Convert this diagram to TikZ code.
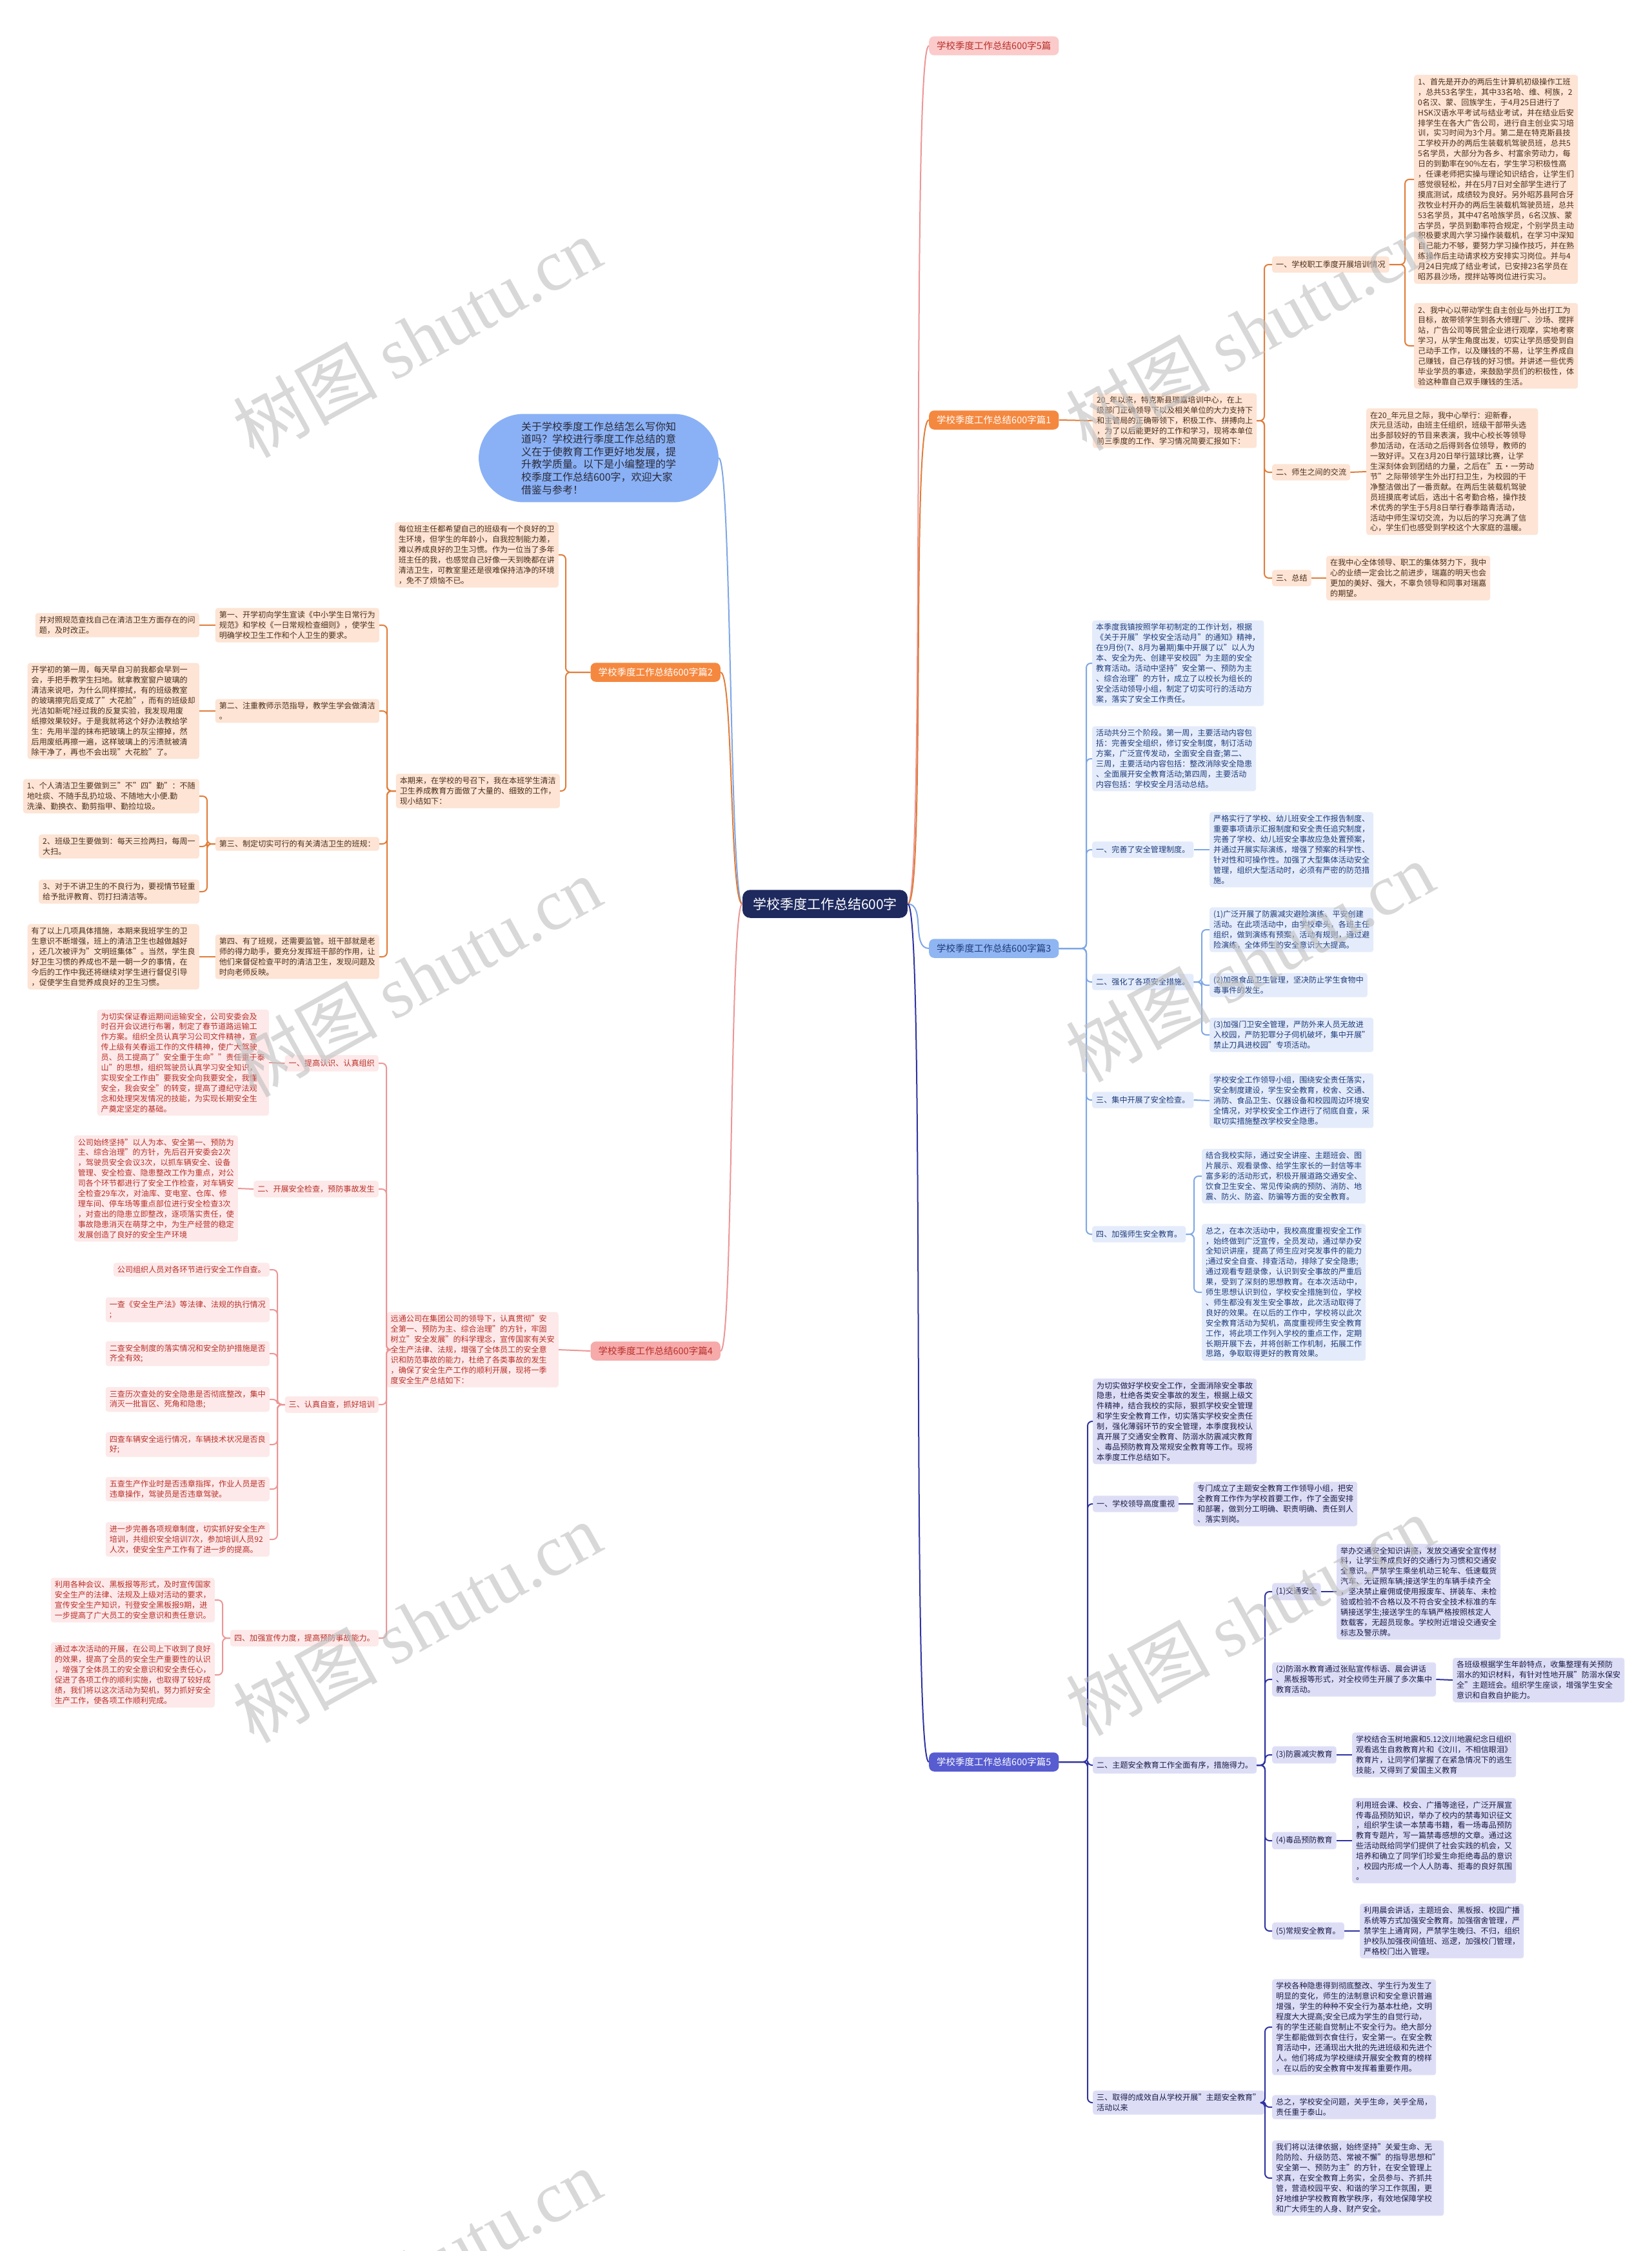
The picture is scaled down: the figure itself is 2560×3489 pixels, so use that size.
\documentclass[tikz,border=0pt]{standalone}
\usepackage{fontspec}
\setmainfont{Noto Sans CJK SC}
\newfontfamily\wmserif{Liberation Serif}
\definecolor{navy}{HTML}{1E2A5E}
\definecolor{bubble}{HTML}{8AB1F5}
\definecolor{bubtext}{HTML}{2A2A3A}
\definecolor{oNode}{HTML}{F5883F}
\definecolor{oLine}{HTML}{E07D3A}
\definecolor{oLeaf}{HTML}{FDE4D4}
\definecolor{oText}{HTML}{4A2E1A}
\definecolor{bNode}{HTML}{8FB5F2}
\definecolor{bLine}{HTML}{7EA7E6}
\definecolor{bLeaf}{HTML}{E4ECFB}
\definecolor{bText}{HTML}{1F3C7A}
\definecolor{pNode}{HTML}{F6AAAA}
\definecolor{pTitle}{HTML}{FBCACA}
\definecolor{pLine}{HTML}{EC9696}
\definecolor{pLeaf}{HTML}{FDE9E9}
\definecolor{pText}{HTML}{B8302A}
\definecolor{iNode}{HTML}{575CD0}
\definecolor{iLine}{HTML}{2F33A0}
\definecolor{iLeaf}{HTML}{DDDEF6}
\definecolor{iText}{HTML}{1C1C48}
\tikzset{
  base/.style={rounded corners=4pt, inner xsep=6pt, inner ysep=5pt, align=left,
    font=\fontsize{12.1}{15.9}\selectfont},
  oleaf/.style={base, fill=oLeaf, text=oText},
  bleaf/.style={base, fill=bLeaf, text=bText},
  pleaf/.style={base, fill=pLeaf, text=pText},
  ileaf/.style={base, fill=iLeaf, text=iText},
  olab/.style={oleaf, inner ysep=7pt},
  blab/.style={bleaf, inner ysep=7pt},
  plab/.style={pleaf, inner ysep=7pt},
  ilab/.style={ileaf, inner ysep=7pt},
  branch/.style={rounded corners=8pt, inner xsep=12pt, inner ysep=8pt,
    font=\fontsize{14.5}{16}\selectfont},
  oln/.style={draw=oLine, line width=2pt, rounded corners=7pt},
  bln/.style={draw=bLine, line width=2pt, rounded corners=7pt},
  pln/.style={draw=pLine, line width=2pt, rounded corners=7pt},
  iln/.style={draw=iLine, line width=2pt, rounded corners=7pt},
  wm/.style={rotate=29, text=black!25, opacity=0.6, font=\fontsize{112}{112}\selectfont}
}
\begin{document}
\begin{tikzpicture}[x=1pt,y=-1pt]
\useasboundingbox (0,0) rectangle (2560,3489);
\fill[white] (0,0) rectangle (2560,3489);

% ---------- center and main branches ----------
\node[fill=navy, text=white, rounded corners=12pt, inner xsep=16pt, inner ysep=12pt,
  font=\fontsize{21}{24}\selectfont] (C) at (1279,1401) {学校季度工作总结600字};
\node[fill=bubble, text=bubtext, rounded corners=70pt, inner xsep=66pt, inner ysep=12pt,
  align=left, font=\fontsize{16}{19.6}\selectfont] (BUB) at (928,710)
 {关于学校季度工作总结怎么写你知\\道吗？学校进行季度工作总结的意\\义在于使教育工作更好地发展，提\\升教学质量。以下是小编整理的学\\校季度工作总结600字，欢迎大家\\借鉴与参考！};
\node[branch, fill=pTitle, text=pText, anchor=west] (T5) at (1440,71) {学校季度工作总结600字5篇};
\node[branch, fill=oNode, text=white, anchor=west] (B1) at (1440,651) {学校季度工作总结600字篇1};
\node[branch, fill=oNode, text=white, anchor=east] (B2) at (1117,1042) {学校季度工作总结600字篇2};
\node[branch, fill=bNode, text=bText, anchor=west] (B3) at (1440,1470) {学校季度工作总结600字篇3};
\node[branch, fill=pNode, text=pText, anchor=east] (B4) at (1117,2094) {学校季度工作总结600字篇4};
\node[branch, fill=iNode, text=white, anchor=west] (B5) at (1440,2731) {学校季度工作总结600字篇5};

\draw[pln] (C.east) .. controls +(28,0) and +(-28,0) .. (T5.west);
\draw[oln] (C.east) .. controls +(28,0) and +(-28,0) .. (B1.west);
\draw[bln] (C.east) .. controls +(28,0) and +(-28,0) .. (B3.west);
\draw[iln] (C.east) .. controls +(28,0) and +(-28,0) .. (B5.west);
\draw[bln] (C.west) .. controls +(-20,0) and +(20,0) .. (BUB.east);
\draw[oln] (C.west) .. controls +(-20,0) and +(20,0) .. (B2.east);
\draw[pln] (C.west) .. controls +(-20,0) and +(20,0) .. (B4.east);

% ---------- 篇1 ----------
\node[oleaf, anchor=west] (a0) at (1694,652) {20\_年以来，特克斯县瑞嘉培训中心，在上\\级部门正确领导下以及相关单位的大力支持下\\和主管局的正确带领下，积极工作、拼搏向上\\，为了以后能更好的工作和学习，现将本单位\\前三季度的工作、学习情况简要汇报如下：};
\node[olab, anchor=west] (a1) at (1972,410) {一、学校职工季度开展培训情况};
\node[oleaf, anchor=west] (a1a) at (2192,278) {1、首先是开办的两后生计算机初级操作工班\\，总共53名学生，其中33名哈、维、柯族，2\\0名汉、蒙、回族学生，于4月25日进行了\\HSK汉语水平考试与结业考试，并在结业后安\\排学生在各大广告公司，进行自主创业实习培\\训，实习时间为3个月。第二是在特克斯县技\\工学校开办的两后生装载机驾驶员班，总共5\\5名学员，大部分为各乡、村富余劳动力，每\\日的到勤率在90\%左右，学生学习积极性高\\，任课老师把实操与理论知识结合，让学生们\\感觉很轻松，并在5月7日对全部学生进行了\\摸底测试，成绩较为良好。另外昭苏县阿合牙\\孜牧业村开办的两后生装载机驾驶员班，总共\\53名学员，其中47名哈族学员，6名汉族、蒙\\古学员，学员到勤率符合规定，个别学员主动\\积极要求周六学习操作装载机，在学习中深知\\自己能力不够，要努力学习操作技巧，并在熟\\练操作后主动请求校方安排实习岗位。并与4\\月24日完成了结业考试，已安排23名学员在\\昭苏县沙场，搅拌站等岗位进行实习。};
\node[oleaf, anchor=west] (a1b) at (2192,536) {2、我中心以带动学生自主创业与外出打工为\\目标，故带领学生到各大修理厂、沙场、搅拌\\站，广告公司等民营企业进行观摩，实地考察\\学习，从学生角度出发，切实让学员感受到自\\己动手工作，以及赚钱的不易，让学生养成自\\己赚钱，自己存钱的好习惯。并讲述一些优秀\\毕业学员的事迹，来鼓励学员们的积极性，体\\验这种靠自己双手赚钱的生活。};
\node[olab, anchor=west] (a2) at (1972,732) {二、师生之间的交流};
\node[oleaf, anchor=west] (a2t) at (2118,731) {在20\_年元旦之际，我中心举行：迎新春，\\庆元旦活动，由班主任组织，班级干部带头选\\出多部较好的节目来表演，我中心校长等领导\\参加活动，在活动之后得到各位领导，教师的\\一致好评。又在3月20日举行篮球比赛，让学\\生深刻体会到团结的力量，之后在"五·一劳动\\节"之际带领学生外出打扫卫生，为校园的干\\净整洁做出了一番贡献。在两后生装载机驾驶\\员班摸底考试后，选出十名考勤合格，操作技\\术优秀的学生于5月8日举行春季踏青活动，\\活动中师生深切交流，为以后的学习充满了信\\心，学生们也感受到学校这个大家庭的温暖。};
\node[olab, anchor=west] (a3) at (1972,896) {三、总结};
\node[oleaf, anchor=west] (a3t) at (2056,896) {在我中心全体领导、职工的集体努力下，我中\\心的业绩一定会比之前进步，瑞嘉的明天也会\\更加的美好、强大，不辜负领导和同事对瑞嘉\\的期望。};

\draw[oln] (B1.east) -- (a0.west);
\foreach \c in {a1,a2,a3} \draw[oln] (a0.east) -- (1960,652) |- (\c.west);
\foreach \c in {a1a,a1b} \draw[oln] (a1.east) -- (2178,410) |- (\c.west);
\draw[oln] (a2.east) -- (a2t.west);
\draw[oln] (a3.east) -- (a3t.west);

% ---------- 篇2 ----------
\node[oleaf, anchor=east] (c0) at (866,860) {每位班主任都希望自己的班级有一个良好的卫\\生环境，但学生的年龄小，自我控制能力差，\\难以养成良好的卫生习惯。作为一位当了多年\\班主任的我，也感觉自己好像一天到晚都在讲\\清洁卫生，可教室里还是很难保持洁净的环境\\，免不了烦恼不已。};
\node[oleaf, anchor=east] (c1) at (868,1226) {本期来，在学校的号召下，我在本班学生清洁\\卫生养成教育方面做了大量的、细致的工作，\\现小结如下：};
\node[oleaf, anchor=east] (c11) at (588,969) {第一、开学初向学生宣读《中小学生日常行为\\规范》和学校《一日常规检查细则》，使学生\\明确学校卫生工作和个人卫生的要求。};
\node[oleaf, anchor=east] (c11a) at (309,969) {并对照规范查找自己在清洁卫生方面存在的问\\题，及时改正。};
\node[oleaf, anchor=east] (c12) at (588,1102) {第二、注重教师示范指导，教学生学会做清洁\\。};
\node[oleaf, anchor=east] (c12a) at (309,1102) {开学初的第一周，每天早自习前我都会早到一\\会，手把手教学生扫地。就拿教室窗户玻璃的\\清洁来说吧，为什么同样擦拭，有的班级教室\\的玻璃擦完后变成了"大花脸"，而有的班级却\\光洁如新呢?经过我的反复实验，我发现用废\\纸擦效果较好。于是我就将这个好办法教给学\\生：先用半湿的抹布把玻璃上的灰尘擦掉，然\\后用废纸再擦一遍，这样玻璃上的污渍就被清\\除干净了，再也不会出现"大花脸"了。};
\node[oleaf, anchor=east] (c13) at (588,1308) {第三、制定切实可行的有关清洁卫生的班规：};
\node[oleaf, anchor=east] (c13a) at (309,1234) {1、个人清洁卫生要做到三"不"四"勤"：不随\\地吐痰、不随手乱扔垃圾、不随地大小便.勤\\洗澡、勤换衣、勤剪指甲、勤捡垃圾。};
\node[oleaf, anchor=east] (c13b) at (309,1312) {2、班级卫生要做到：每天三捡两扫，每周一\\大扫。};
\node[oleaf, anchor=east] (c13c) at (309,1382) {3、对于不讲卫生的不良行为，要视情节轻重\\给予批评教育、罚打扫清洁等。};
\node[oleaf, anchor=east] (c14) at (588,1483) {第四、有了班规，还需要监管。班干部就是老\\师的得力助手，要充分发挥班干部的作用，让\\他们来督促检查平时的清洁卫生，发现问题及\\时向老师反映。};
\node[oleaf, anchor=east] (c14a) at (309,1483) {有了以上几项具体措施，本期来我班学生的卫\\生意识不断增强，班上的清洁卫生也越做越好\\，还几次被评为"文明班集体"。当然，学生良\\好卫生习惯的养成也不是一朝一夕的事情，在\\今后的工作中我还将继续对学生进行督促引导\\，促使学生自觉养成良好的卫生习惯。};

\foreach \c in {c0,c1} \draw[oln] (B2.west) -- (877,1042) |- (\c.east);
\foreach \c in {c11,c12,c13,c14} \draw[oln] (c1.west) -- (600,1226) |- (\c.east);
\draw[oln] (c11.west) -- (c11a.east);
\draw[oln] (c12.west) -- (c12a.east);
\draw[oln] (c14.west) -- (c14a.east);
\foreach \c in {c13a,c13b,c13c} \draw[oln] (c13.west) -- (321,1308) |- (\c.east);

% ---------- 篇3 ----------
\node[bleaf, anchor=west] (d1) at (1693,1028) {本季度我镇按照学年初制定的工作计划，根据\\《关于开展"学校安全活动月"的通知》精神，\\在9月份(7、8月为暑期)集中开展了以"以人为\\本、安全为先、创建平安校园"为主题的安全\\教育活动。活动中坚持"安全第一、预防为主\\、综合治理"的方针，成立了以校长为组长的\\安全活动领导小组，制定了切实可行的活动方\\案，落实了安全工作责任。};
\node[bleaf, anchor=west] (d2) at (1693,1176) {活动共分三个阶段。第一周，主要活动内容包\\括：完善安全组织，修订安全制度，制订活动\\方案，广泛宣传发动，全面安全自查;第二、\\三周，主要活动内容包括：整改消除安全隐患\\、全面展开安全教育活动;第四周，主要活动\\内容包括：学校安全月活动总结。};
\node[blab, anchor=west] (d3) at (1693,1317) {一、完善了安全管理制度。};
\node[bleaf, anchor=west] (d3a) at (1875,1317) {严格实行了学校、幼儿班安全工作报告制度、\\重要事项请示汇报制度和安全责任追究制度，\\完善了学校、幼儿班安全事故应急处置预案，\\并通过开展实际演练，增强了预案的科学性、\\针对性和可操作性。加强了大型集体活动安全\\管理，组织大型活动时，必须有严密的防范措\\施。};
\node[blab, anchor=west] (d4) at (1693,1522) {二、强化了各项安全措施。};
\node[bleaf, anchor=west] (d4a) at (1875,1441) {(1)广泛开展了防震减灾避险演练、平安创建\\活动。在此项活动中，由学校牵头，各班主任\\组织，做到演练有预案，活动有规则，通过避\\险演练，全体师生的安全意识大大提高。};
\node[bleaf, anchor=west] (d4b) at (1875,1527) {(2)加强食品卫生管理，坚决防止学生食物中\\毒事件的发生。};
\node[bleaf, anchor=west] (d4c) at (1875,1604) {(3)加强门卫安全管理，严防外来人员无故进\\入校园，严防犯罪分子伺机破坏，集中开展"\\禁止刀具进校园"专项活动。};
\node[blab, anchor=west] (d5) at (1693,1705) {三、集中开展了安全检查。};
\node[bleaf, anchor=west] (d5a) at (1875,1706) {学校安全工作领导小组，围绕安全责任落实，\\安全制度建设，学生安全教育，校舍、交通、\\消防、食品卫生、仪器设备和校园周边环境安\\全情况，对学校安全工作进行了彻底自查，采\\取切实措施整改学校安全隐患。};
\node[blab, anchor=west] (d6) at (1693,1913) {四、加强师生安全教育。};
\node[bleaf, anchor=west] (d6a) at (1863,1823) {结合我校实际，通过安全讲座、主题班会、图\\片展示、观看录像、给学生家长的一封信等丰\\富多彩的活动形式，积极开展道路交通安全、\\饮食卫生安全、常见传染病的预防、消防、地\\震、防火、防盗、防骗等方面的安全教育。};
\node[bleaf, anchor=west] (d6b) at (1863,2003) {总之，在本次活动中，我校高度重视安全工作\\，始终做到广泛宣传，全员发动，通过举办安\\全知识讲座，提高了师生应对突发事件的能力\\;通过安全自查、排查活动，排除了安全隐患;\\通过观看专题录像，认识到安全事故的严重后\\果，受到了深刻的思想教育。在本次活动中，\\师生思想认识到位，学校安全措施到位，学校\\、师生都没有发生安全事故，此次活动取得了\\良好的效果。在以后的工作中，学校将以此次\\安全教育活动为契机，高度重视师生安全教育\\工作，将此项工作列入学校的重点工作，定期\\长期开展下去，并将创新工作机制，拓展工作\\思路，争取取得更好的教育效果。};

\foreach \c in {d1,d2,d3,d4,d5,d6} \draw[bln] (B3.east) -- (1684,1470) |- (\c.west);
\draw[bln] (d3.east) -- (d3a.west);
\foreach \c in {d4a,d4b,d4c} \draw[bln] (d4.east) -- (1863,1522) |- (\c.west);
\draw[bln] (d5.east) -- (d5a.west);
\foreach \c in {d6a,d6b} \draw[bln] (d6.east) -- (1851,1913) |- (\c.west);

% ---------- 篇4 ----------
\node[pleaf, anchor=east] (e0) at (866,2092) {远通公司在集团公司的领导下，认真贯彻"安\\全第一、预防为主、综合治理"的方针，牢固\\树立"安全发展"的科学理念，宣传国家有关安\\全生产法律、法规，增强了全体员工的安全意\\识和防范事故的能力，杜绝了各类事故的发生\\，确保了安全生产工作的顺利开展，现将一季\\度安全生产总结如下：};
\node[plab, anchor=east] (e1) at (587,1648) {一、提高认识、认真组织};
\node[pleaf, anchor=east] (e1a) at (417,1647) {为切实保证春运期间运输安全，公司安委会及\\时召开会议进行布署，制定了春节道路运输工\\作方案。组织全员认真学习公司文件精神，宣\\传上级有关春运工作的文件精神，使广大驾驶\\员、员工提高了"安全重于生命""责任重于泰\\山"的思想，组织驾驶员认真学习安全知识，\\实现安全工作由"要我安全向我要安全，我懂\\安全，我会安全"的转变，提高了遵纪守法观\\念和处理突发情况的技能，为实现长期安全生\\产奠定坚定的基础。};
\node[plab, anchor=east] (e2) at (587,1843) {二、开展安全检查，预防事故发生};
\node[pleaf, anchor=east] (e2a) at (369,1842) {公司始终坚持"以人为本、安全第一、预防为\\主、综合治理"的方针，先后召开安委会2次\\，驾驶员安全会议3次，以抓车辆安全、设备\\管理、安全检查、隐患整改工作为重点，对公\\司各个环节都进行了安全工作检查，对车辆安\\全检查29车次，对油库、变电室、仓库、修\\理车间、停车场等重点部位进行安全检查3次\\，对查出的隐患立即整改，逐项落实责任，使\\事故隐患消灭在萌芽之中，为生产经营的稳定\\发展创造了良好的安全生产环境};
\node[plab, anchor=east] (e3) at (587,2177) {三、认真自查，抓好培训};
\node[pleaf, anchor=east] (e3a) at (418,1968) {公司组织人员对各环节进行安全工作自查。};
\node[pleaf, anchor=east] (e3b) at (418,2030) {一查《安全生产法》等法律、法规的执行情况\\;};
\node[pleaf, anchor=east] (e3c) at (418,2098) {二查安全制度的落实情况和安全防护措施是否\\齐全有效;};
\node[pleaf, anchor=east] (e3d) at (418,2169) {三查历次查处的安全隐患是否彻底整改，集中\\消灭一批盲区、死角和隐患;};
\node[pleaf, anchor=east] (e3e) at (418,2239) {四查车辆安全运行情况，车辆技术状况是否良\\好;};
\node[pleaf, anchor=east] (e3f) at (418,2308) {五查生产作业时是否违章指挥，作业人员是否\\违章操作，驾驶员是否违章驾驶。};
\node[pleaf, anchor=east] (e3g) at (418,2386) {进一步完善各项规章制度，切实抓好安全生产\\培训，共组织安全培训7次，参加培训人员92\\人次，使安全生产工作有了进一步的提高。};
\node[plab, anchor=east] (e4) at (587,2539) {四、加强宣传力度，提高预防事故能力。};
\node[pleaf, anchor=east] (e4a) at (333,2480) {利用各种会议、黑板报等形式，及时宣传国家\\安全生产的法律、法规及上级对活动的要求，\\宣传安全生产知识，刊登安全黑板报9期，进\\一步提高了广大员工的安全意识和责任意识。};
\node[pleaf, anchor=east] (e4b) at (333,2596) {通过本次活动的开展，在公司上下收到了良好\\的效果，提高了全员的安全生产重要性的认识\\，增强了全体员工的安全意识和安全责任心，\\促进了各项工作的顺利实施，也取得了较好成\\绩，我们将以这次活动为契机，努力抓好安全\\生产工作，使各项工作顺利完成。};

\draw[pln] (B4.west) -- (e0.east);
\foreach \c in {e1,e2,e3,e4} \draw[pln] (e0.west) -- (599,2092) |- (\c.east);
\draw[pln] (e1.west) -- (e1a.east);
\draw[pln] (e2.west) -- (e2a.east);
\foreach \c in {e3a,e3b,e3c,e3d,e3e,e3f,e3g} \draw[pln] (e3.west) -- (430,2177) |- (\c.east);
\foreach \c in {e4a,e4b} \draw[pln] (e4.west) -- (345,2539) |- (\c.east);

% ---------- 篇5 ----------
\node[ileaf, anchor=west] (f0) at (1694,2203) {为切实做好学校安全工作，全面消除安全事故\\隐患，杜绝各类安全事故的发生，根据上级文\\件精神，结合我校的实际，狠抓学校安全管理\\和学生安全教育工作，切实落实学校安全责任\\制，强化薄弱环节的安全管理，本季度我校认\\真开展了交通安全教育、防溺水防震减灾教育\\、毒品预防教育及常规安全教育等工作。现将\\本季度工作总结如下。};
\node[ilab, anchor=west] (f1) at (1694,2331) {一、学校领导高度重视};
\node[ileaf, anchor=west] (f1a) at (1850,2331) {专门成立了主题安全教育工作领导小组，把安\\全教育工作作为学校首要工作，作了全面安排\\和部署，做到分工明确、职责明确、责任到人\\、落实到岗。};
\node[ilab, anchor=west] (f2) at (1694,2736) {二、主题安全教育工作全面有序，措施得力。};
\node[ilab, anchor=west] (f21) at (1972,2467) {(1)交通安全};
\node[ileaf, anchor=west] (f21a) at (2072,2467) {举办交通安全知识讲座，发放交通安全宣传材\\料，让学生养成良好的交通行为习惯和交通安\\全意识。严禁学生乘坐机动三轮车、低速载货\\汽车、无证照车辆;接送学生的车辆手续齐全\\，坚决禁止雇佣或使用报废车、拼装车、未检\\验或检验不合格以及不符合安全技术标准的车\\辆接送学生;接送学生的车辆严格按照核定人\\数载客，无超员现象。学校附近增设交通安全\\标志及警示牌。};
\node[ileaf, anchor=west] (f22) at (1972,2603) {(2)防溺水教育通过张贴宣传标语、晨会讲话\\、黑板报等形式，对全校师生开展了多次集中\\教育活动。};
\node[ileaf, anchor=west] (f22a) at (2252,2604) {各班级根据学生年龄特点，收集整理有关预防\\溺水的知识材料，有针对性地开展"防溺水保安\\全"主题班会。组织学生座谈，增强学生安全\\意识和自救自护能力。};
\node[ilab, anchor=west] (f23) at (1972,2720) {(3)防震减灾教育};
\node[ileaf, anchor=west] (f23a) at (2096,2720) {学校结合玉树地震和5.12汶川地震纪念日组织\\观看逃生自救教育片和《汶川，不相信眼泪》\\教育片，让同学们掌握了在紧急情况下的逃生\\技能，又得到了爱国主义教育};
\node[ilab, anchor=west] (f24) at (1972,2853) {(4)毒品预防教育};
\node[ileaf, anchor=west] (f24a) at (2096,2853) {利用班会课、校会、广播等途径，广泛开展宣\\传毒品预防知识，举办了校内的禁毒知识征文\\，组织学生读一本禁毒书籍，看一场毒品预防\\教育专题片，写一篇禁毒感想的文章。通过这\\些活动既给同学们提供了社会实践的机会，又\\培养和确立了同学们珍爱生命拒绝毒品的意识\\，校园内形成一个人人防毒、拒毒的良好氛围\\。};
\node[ilab, anchor=west] (f25) at (1972,2993) {(5)常规安全教育。};
\node[ileaf, anchor=west] (f25a) at (2108,2993) {利用晨会讲话，主题班会、黑板报、校园广播\\系统等方式加强安全教育。加强宿舍管理，严\\禁学生上通宵网，严禁学生晚归、不归，组织\\护校队加强夜间值班、巡逻，加强校门管理，\\严格校门出入管理。};
\node[ileaf, anchor=west] (f3) at (1694,3259) {三、取得的成效自从学校开展"主题安全教育"\\活动以来};
\node[ileaf, anchor=west] (f3a) at (1972,3142) {学校各种隐患得到彻底整改、学生行为发生了\\明显的变化，师生的法制意识和安全意识普遍\\增强，学生的种种不安全行为基本杜绝，文明\\程度大大提高;安全已成为学生的自觉行动，\\有的学生还能自觉制止不安全行为。绝大部分\\学生都能做到衣食住行，安全第一。在安全教\\育活动中，还涌现出大批的先进班级和先进个\\人。他们将成为学校继续开展安全教育的榜样\\，在以后的安全教育中发挥着重要作用。};
\node[ileaf, anchor=west] (f3b) at (1972,3266) {总之，学校安全问题，关乎生命，关乎全局，\\责任重于泰山。};
\node[ileaf, anchor=west] (f3c) at (1972,3376) {我们将以法律依据，始终坚持"关爱生命、无\\险防险、升级防范、常被不懈"的指导思想和"\\安全第一、预防为主"的方针，在安全管理上\\求真，在安全教育上务实，全员参与、齐抓共\\管，营造校园平安、和谐的学习工作氛围，更\\好地维护学校教育教学秩序，有效地保障学校\\和广大师生的人身、财产安全。};

\foreach \c in {f0,f1,f2,f3} \draw[iln] (B5.east) -- (1686,2731) |- (\c.west);
\draw[iln] (f1.east) -- (f1a.west);
\foreach \c in {f21,f22,f23,f24,f25} \draw[iln] (f2.east) -- (1961,2736) |- (\c.west);
\draw[iln] (f21.east) -- (f21a.west);
\draw[iln] (f22.east) -- (f22a.west);
\draw[iln] (f23.east) -- (f23a.west);
\draw[iln] (f24.east) -- (f24a.west);
\draw[iln] (f25.east) -- (f25a.west);
\foreach \c in {f3a,f3b,f3c} \draw[iln] (f3.east) -- (1961,3259) |- (\c.west);

% ---------- watermarks ----------
\foreach \wx/\wy [count=\i] in {646/523, 1937/512, 646/1514, 1937/1491, 646/2515, 1937/2504, 646/3517}
  \node[wm] (wm\i) at (\wx,\wy) {树图 {\wmserif shutu.cn}};
\end{tikzpicture}
\end{document}
